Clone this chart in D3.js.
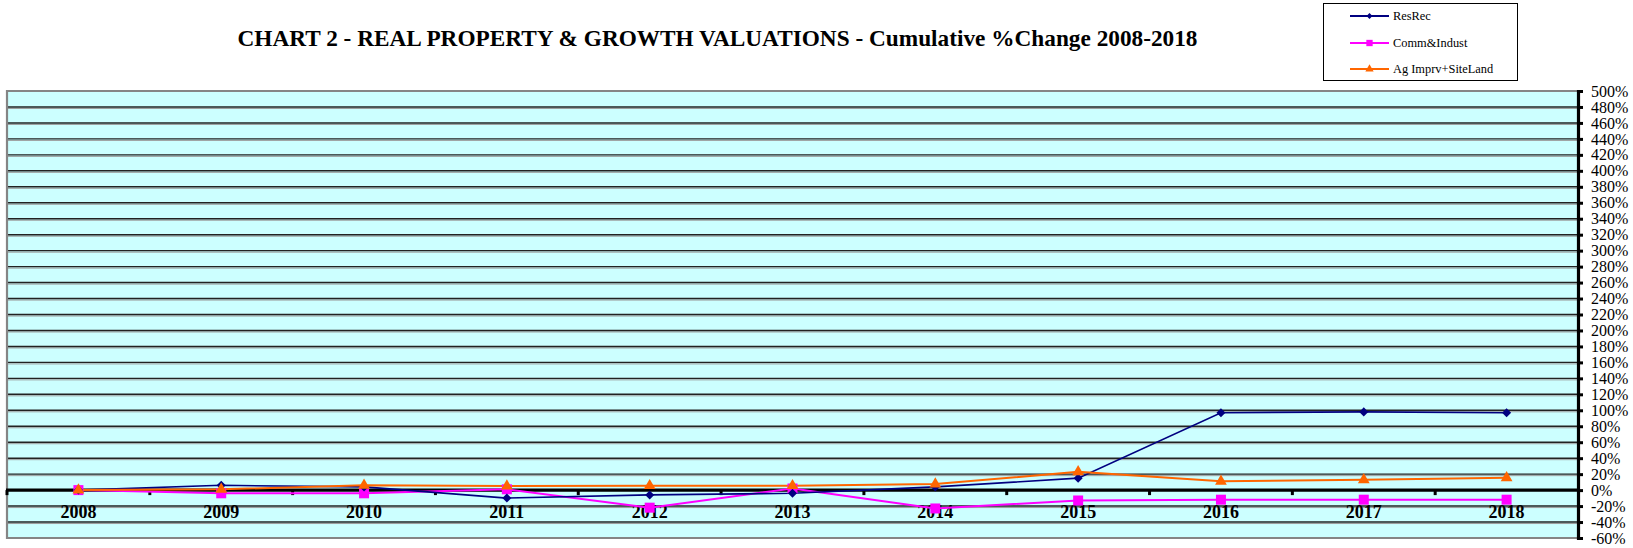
<!DOCTYPE html>
<html>
<head>
<meta charset="utf-8">
<script src="https://cdn.jsdelivr.net/npm/d3@7"></script>
<style>
  html, body { margin: 0; padding: 0; background: #fff; }
  svg { display: block; }
  text { font-family: "Liberation Serif", "Times New Roman", serif; }
</style>
</head>
<body>
<script>
// ---- data ----
const years = ["2008","2009","2010","2011","2012","2013","2014","2015","2016","2017","2018"];
const resRec = [0, 6, 4, -10, -6, -4, 4, 15, 97, 98, 97];
const commIndust = [0, -4, -4, 1, -22, 2, -23, -13, -12, -12, -12];
const agImprv = [0, 1, 6, 5, 5.5, 5.5, 7.5, 23, 11, 13, 15.5];
const yTicks = d3.range(-60, 501, 20);
const seriesNames = ["ResRec", "Comm&Indust", "Ag Imprv+SiteLand"];

(function () {
const W = 1633, H = 548;
const pL = 7, pR = 1578, pT = 91, pB = 538;

const svg = d3.select("body").append("svg").attr("width", W).attr("height", H);

const x = d3.scaleBand().domain(years).range([pL, pR]).padding(0);
const cx = d => x(d) + x.bandwidth() / 2;
const y = d3.scaleLinear().domain([-60, 500]).range([pB, pT]);

// plot background
svg.append("rect").attr("x", pL).attr("y", pT).attr("width", pR - pL).attr("height", pB - pT)
  .attr("fill", "#CCFFFF");

// gridlines
const grid = svg.append("g");
yTicks.filter(v => v !== 0 && v !== 500 && v !== -60).forEach(v => {
  grid.append("line").attr("x1", pL).attr("x2", pR).attr("y1", y(v) + 1.5).attr("y2", y(v) + 1.5)
    .attr("stroke", "#9a9a9a").attr("stroke-width", 1);
  grid.append("line").attr("x1", pL).attr("x2", pR).attr("y1", y(v)).attr("y2", y(v))
    .attr("stroke", "#222").attr("stroke-width", 1.4);
});

// plot border (gray)
svg.append("path")
  .attr("d", `M${pR},${pT} L${pL},${pT} L${pL},${pB} L${pR},${pB}`)
  .attr("fill", "none").attr("stroke", "#858585").attr("stroke-width", 2.2);

// zero line
svg.append("line").attr("x1", pL - 1).attr("x2", pR).attr("y1", y(0)).attr("y2", y(0))
  .attr("stroke", "#000").attr("stroke-width", 3.2);

// category ticks on zero line
const bounds = d3.range(0, years.length).map(i => pL + i * x.bandwidth());
svg.append("g").selectAll("line").data(bounds).join("line")
  .attr("x1", d => d).attr("x2", d => d).attr("y1", y(0)).attr("y2", y(0) + 5)
  .attr("stroke", "#000").attr("stroke-width", 3);

// x labels
svg.append("g").selectAll("text").data(years).join("text")
  .attr("x", d => cx(d)).attr("y", 518).attr("text-anchor", "middle")
  .attr("font-size", 18).attr("font-weight", "bold").attr("fill", "#000").text(d => d);

// right axis
const axis = d3.axisRight(y).tickValues(yTicks).tickSize(5).tickPadding(8).tickFormat(d => d + "%");
const ag = svg.append("g").attr("transform", `translate(${pR},0)`).call(axis);
ag.select(".domain").attr("stroke", "#000").attr("stroke-width", 3.2);
ag.selectAll(".tick line").attr("stroke", "#000").attr("stroke-width", 3);
ag.selectAll(".tick text").attr("font-family", "Liberation Serif, Times New Roman, serif")
  .attr("font-size", 16).attr("fill", "#000");

// series
const series = [
  { name: seriesNames[0], vals: resRec, color: "#000080", shape: d3.symbolDiamond2, size: 52, lsize: 22, width: 1.6 },
  { name: seriesNames[1], vals: commIndust, color: "#FF00FF", shape: d3.symbolSquare, size: 100, lsize: 40, width: 2 },
  { name: seriesNames[2], vals: agImprv, color: "#FF6600", shape: d3.symbolTriangle, size: 60, lsize: 30, width: 2 }
];
const line = d3.line().x((d, i) => cx(years[i])).y(d => y(d));
const drawOrder = [1, 0, 2];
drawOrder.forEach(k => {
  const s = series[k];
  svg.append("path").datum(s.vals).attr("d", line).attr("fill", "none")
    .attr("stroke", s.color).attr("stroke-width", s.width);
});
drawOrder.forEach(k => {
  const s = series[k];
  svg.append("g").selectAll("path").data(s.vals).join("path")
    .attr("transform", (d, i) => `translate(${cx(years[i])},${y(d)})`)
    .attr("d", d3.symbol().type(s.shape).size(s.size)).attr("fill", s.color);
});

// title
svg.append("text").attr("x", 717.5).attr("y", 46).attr("text-anchor", "middle")
  .attr("font-size", 22.5).attr("font-weight", "bold").attr("fill", "#000")
  .attr("textLength", 960).attr("lengthAdjust", "spacingAndGlyphs")
  .text("CHART 2 - REAL PROPERTY & GROWTH VALUATIONS - Cumulative %Change 2008-2018");

// legend
const lg = svg.append("g");
lg.append("rect").attr("x", 1323.5).attr("y", 3.5).attr("width", 194).attr("height", 77)
  .attr("fill", "#fff").attr("stroke", "#000").attr("stroke-width", 1);
const legendY = [16, 43, 69];
series.forEach((s, i) => {
  lg.append("line").attr("x1", 1350).attr("x2", 1389).attr("y1", legendY[i]).attr("y2", legendY[i])
    .attr("stroke", s.color).attr("stroke-width", 2);
  lg.append("path").attr("transform", `translate(1369.5,${legendY[i]})`)
    .attr("d", d3.symbol().type(s.shape).size(s.lsize)).attr("fill", s.color);
  lg.append("text").attr("x", 1393).attr("y", legendY[i] + 4).attr("font-size", 12.4)
    .attr("fill", "#000").text(s.name);
});
})();
</script>
</body>
</html>
